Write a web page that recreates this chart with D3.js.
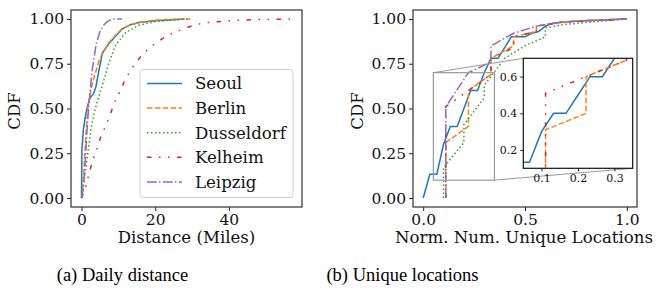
<!DOCTYPE html>
<html>
<head>
<meta charset="utf-8">
<style>
	html, body {margin:0px; padding:0px; background:#fff;}
	svg {display:block;}
	svg text {font-family:"DejaVu Serif", "Liberation Serif", serif;}
</style>
</head>
<body>

<svg width="656" height="301"></svg>

<script src="https://d3js.org/d3.v7.min.js"></script>
<script>

	const cities = ['Seoul', 'Berlin', 'Dusseldorf', 'Kelheim', 'Leipzig'];
	const colours = ['#1f77b4', '#ff7f0e', '#2ca02c', '#d62728', '#9467bd'];
	const dashes = [null, '5.5,2.4', '1.5,2.5', '4.5,7.5,1.5,7.5,1.5,7.5', '9.6,2.4,1.5,2.4'];

	// (a) daily distance in miles -> cdf
	const seoulDist = [[0,0],[0.1,0.27],[0.5,0.38],[1.0,0.45],[1.6,0.51],[2.3,0.56],[3.2,0.58],[3.9,0.62],[4.8,0.72],[5.7,0.81],[7.5,0.865],[9.3,0.905],[11.1,0.945],[13.3,0.968],[15.6,0.98],[20,0.99],[25,0.995],[28,1.0]];
	const berlinDist = [[0,0],[0.3,0.05],[0.7,0.17],[1.2,0.36],[1.7,0.5],[2.5,0.6],[3.5,0.68],[4.5,0.75],[5.7,0.81],[7.5,0.87],[9.3,0.91],[11,0.945],[13,0.965],[15.5,0.98],[20,0.993],[25,0.998],[29.5,1.0]];
	const dusseldorfDist = [[0,0],[0.7,0.1],[1.4,0.2],[2.1,0.31],[2.7,0.4],[3.4,0.47],[4.3,0.54],[5.2,0.6],[6.1,0.66],[7.5,0.76],[9.3,0.855],[12,0.925],[15.6,0.965],[20,0.985],[25,0.995],[29.5,1.0]];
	const kelheimDist = [[0,0],[1,0.05],[1.6,0.1],[2.5,0.17],[3.4,0.23],[4.3,0.28],[5.2,0.34],[6.3,0.39],[7.3,0.44],[8.4,0.5],[9.3,0.55],[10.6,0.6],[11.8,0.66],[13.1,0.705],[14.5,0.75],[16.5,0.8],[18.5,0.84],[20.3,0.868],[22.7,0.9],[25.4,0.927],[27.6,0.944],[30.4,0.964],[33,0.977],[35.8,0.983],[38.5,0.987],[41.2,0.992],[46.6,0.996],[52,0.998],[57,1.0]];
	const leipzigDist = [[0,0],[0.5,0.05],[1,0.2],[1.5,0.38],[2,0.52],[2.5,0.63],[3,0.73],[4,0.86],[5,0.93],[6,0.965],[7,0.985],[8,0.995],[9,1.0],[11,1.0]];

	// (b) normalised number of unique locations -> cdf
	const seoulLoc = [[0,0],[0.033,0.133],[0.067,0.133],[0.1,0.3],[0.133,0.4],[0.167,0.4],[0.2,0.5],[0.233,0.6],[0.267,0.6],[0.3,0.7],[0.333,0.78],[0.367,0.78],[0.4,0.84],[0.433,0.9],[0.467,0.9],[0.5,0.9],[0.533,0.92],[0.567,0.93],[0.6,0.96],[0.633,0.975],[0.667,0.98],[0.7,0.985],[0.8,0.99],[0.9,0.995],[1.0,1.0]];
	const berlinLoc = [[0.111,0],[0.111,0.31],[0.222,0.4],[0.222,0.6],[0.333,0.69],[0.333,0.78],[0.444,0.85],[0.444,0.9],[0.556,0.93],[0.556,0.96],[0.667,0.98],[0.778,0.99],[1.0,1.0]];
	const dusseldorfLoc = [[0.1,0],[0.1,0.17],[0.2,0.31],[0.2,0.41],[0.3,0.56],[0.3,0.63],[0.4,0.78],[0.5,0.85],[0.6,0.9],[0.6,0.95],[0.7,0.97],[0.8,0.98],[0.9,0.99],[1.0,1.0]];
	const kelheimLoc = [[0.111,0],[0.111,0.51],[0.222,0.6],[0.333,0.69],[0.333,0.78],[0.444,0.84],[0.444,0.9],[0.556,0.93],[0.556,0.96],[0.667,0.98],[1.0,1.0]];
	const leipzigLoc = [[0.111,0],[0.111,0.51],[0.222,0.7],[0.333,0.76],[0.333,0.85],[0.444,0.92],[0.556,0.96],[0.667,0.98],[0.778,0.99],[1.0,1.0]];

	const yTicks = [0, 0.25, 0.5, 0.75, 1.0];
	const distTicks = [0, 20, 40];
	const locTicks = [0, 0.5, 1.0];
	const insetXTicks = [0.1, 0.2, 0.3];
	const insetYTicks = [0.2, 0.4, 0.6];
	const insetCities = [0, 1, 3]; // Seoul, Berlin, Kelheim

	const svg = d3.select('svg');
	const serif = '"DejaVu Serif", "Liberation Serif", serif';
	const tickSize = 15.5;
	const labelSize = 16.6;

	function label(g, txt, size) {
		return g.append('text').attr('font-family', serif).style('font-family', serif)
			.style('font-size', size + 'px').attr('fill', '#111').text(txt);
	}

	function drawLines(g, data, idxs, x, y) {
		let line = d3.line().x(d => x(d[0])).y(d => y(d[1]));
		idxs.forEach(function(i) {
			g.append('path')
				.attr('d', line(data[i]))
				.attr('fill', 'none')
				.attr('stroke', colours[i])
				.attr('stroke-width', 1.5)
				.attr('stroke-dasharray', dashes[i]);
		});
	}

	function drawAxes(g, x, y, xt, yt, xfmt, yfmt, size, tickLen, frameCol) {
		let xa = g.append('g').attr('transform', `translate(0,${y.range()[0]})`)
			.call(d3.axisBottom(x).tickValues(xt).tickFormat(d3.format(xfmt)).tickSize(tickLen).tickPadding(3));
		let ya = g.append('g').attr('transform', `translate(${x.range()[0]},0)`)
			.call(d3.axisLeft(y).tickValues(yt).tickFormat(d3.format(yfmt)).tickSize(tickLen).tickPadding(3));
		[xa, ya].forEach(function(a) {
			a.attr('font-family', serif);
			a.select('.domain').remove();
			a.selectAll('line').attr('stroke', '#222').attr('stroke-width', 1);
			a.selectAll('text').attr('fill', '#111').style('font-family', serif).style('font-size', size + 'px');
		});
		g.append('rect')
			.attr('x', x.range()[0]).attr('y', y.range()[1])
			.attr('width', x.range()[1] - x.range()[0])
			.attr('height', y.range()[0] - y.range()[1])
			.attr('fill', 'none').attr('stroke', frameCol).attr('stroke-width', 1.2);
	}

	function clipFor(id, x, y) {
		svg.append('clipPath').attr('id', id).append('rect')
			.attr('x', x.range()[0]).attr('y', y.range()[1])
			.attr('width', x.range()[1] - x.range()[0])
			.attr('height', y.range()[0] - y.range()[1]);
		return 'url(#' + id + ')';
	}

	// ---- panel (a)
	const xA = d3.scaleLinear().domain([-2.85, 59.85]).range([71, 302]);
	const yA = d3.scaleLinear().domain([-0.05, 1.05]).range([207, 10]);
	const distData = [seoulDist, berlinDist, dusseldorfDist, kelheimDist, leipzigDist];

	const gA = svg.append('g');
	drawLines(gA.append('g').attr('clip-path', clipFor('clipA', xA, yA)), distData, [0,1,2,3,4], xA, yA);

	// legend
	const leg = gA.append('g');
	leg.append('rect').attr('x', 140).attr('y', 69.5).attr('width', 153).attr('height', 128)
		.attr('rx', 3).attr('fill', '#fff').attr('fill-opacity', 0.8)
		.attr('stroke', '#d0d0d0').attr('stroke-width', 1);
	cities.forEach(function(c, i) {
		let ly = 83.5 + i * 24.6;
		leg.append('line').attr('x1', 147).attr('x2', 182).attr('y1', ly).attr('y2', ly)
			.attr('stroke', colours[i]).attr('stroke-width', 1.5).attr('stroke-dasharray', dashes[i]);
		label(leg, c, labelSize).attr('x', 195).attr('y', ly).attr('dy', '0.36em');
	});

	drawAxes(gA, xA, yA, distTicks, yTicks, 'd', '.2f', tickSize, 4, '#333');
	label(gA, 'Distance (Miles)', labelSize).attr('x', 186.5).attr('y', 243).attr('text-anchor', 'middle');
	label(gA, 'CDF', labelSize).attr('transform', 'translate(20,111) rotate(-90)').attr('text-anchor', 'middle');

	// ---- panel (b)
	const xB = d3.scaleLinear().domain([-0.05, 1.05]).range([413, 637]);
	const yB = yA.copy();
	const locData = [seoulLoc, berlinLoc, dusseldorfLoc, kelheimLoc, leipzigLoc];

	const gB = svg.append('g');
	drawLines(gB.append('g').attr('clip-path', clipFor('clipB', xB, yB)), locData, [0,1,2,3,4], xB, yB);

	// inset scales
	const xI = d3.scaleLinear().domain([0.05, 0.35]).range([523.3, 632.7]);
	const yI = d3.scaleLinear().domain([0.1, 0.7]).range([168.3, 58.3]);

	// zoom marker + connectors
	gB.append('rect')
		.attr('x', xB(0.05)).attr('y', yB(0.7))
		.attr('width', xB(0.35) - xB(0.05)).attr('height', yB(0.1) - yB(0.7))
		.attr('fill', 'none').attr('stroke', '#999').attr('stroke-width', 1.2);
	gB.append('line').attr('x1', xB(0.05)).attr('y1', yB(0.7)).attr('x2', xI(0.05)).attr('y2', yI(0.7))
		.attr('stroke', '#999').attr('stroke-width', 1);
	gB.append('line').attr('x1', xB(0.35)).attr('y1', yB(0.1)).attr('x2', xI(0.35)).attr('y2', yI(0.1))
		.attr('stroke', '#999').attr('stroke-width', 1);

	drawAxes(gB, xB, yB, locTicks, yTicks, '.1f', '.2f', tickSize, 4, '#333');
	label(gB, 'Norm. Num. Unique Locations', labelSize).attr('x', 524).attr('y', 243).attr('text-anchor', 'middle');
	label(gB, 'CDF', labelSize).attr('transform', 'translate(363,111) rotate(-90)').attr('text-anchor', 'middle');

	// inset
	const gI = svg.append('g');
	gI.append('rect').attr('x', 523.3).attr('y', 58.3).attr('width', 109.4).attr('height', 110).attr('fill', '#fff');
	drawLines(gI.append('g').attr('clip-path', clipFor('clipI', xI, yI)), locData, insetCities, xI, yI);
	drawAxes(gI, xI, yI, insetXTicks, insetYTicks, '.1f', '.1f', 11, 3, '#111');

	// captions
	svg.append('text').attr('x', 122.5).attr('y', 281).attr('text-anchor', 'middle')
		.style('font-family', '"Liberation Serif", serif').style('font-size', '18.5px').text('(a) Daily distance');
	svg.append('text').attr('x', 402.5).attr('y', 281).attr('text-anchor', 'middle')
		.style('font-family', '"Liberation Serif", serif').style('font-size', '18.5px').text('(b) Unique locations');

</script>
</body>
</html>
